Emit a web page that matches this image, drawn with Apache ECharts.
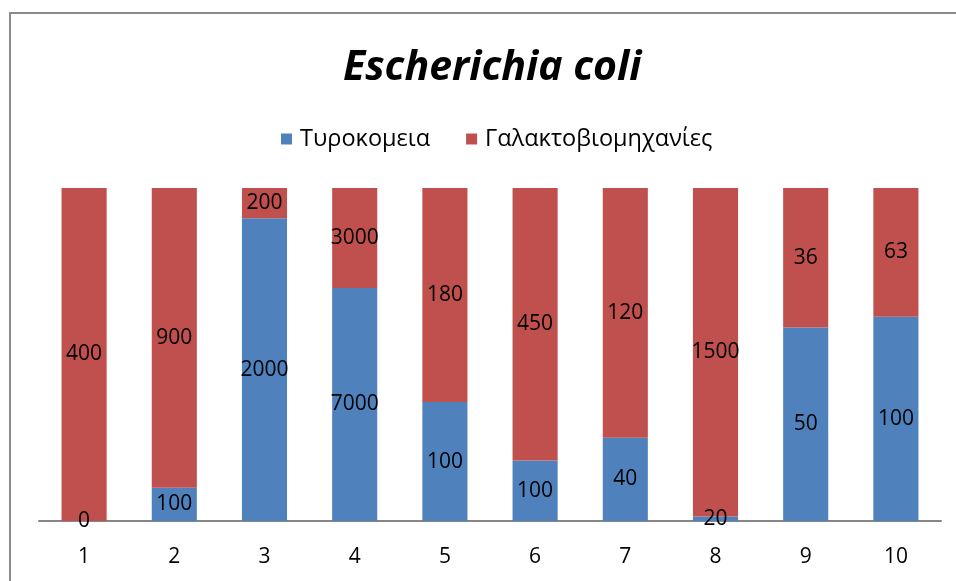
<!DOCTYPE html>
<html>
<head>
<meta charset="utf-8">
<script src="https://cdn.jsdelivr.net/npm/echarts@6/dist/echarts.min.js"></script>
<style>
  html, body { margin: 0; padding: 0; background: #fff; }
  #chart { width: 956px; height: 581px; }
</style>
</head>
<body>
<div id="chart"></div>
<script>
// Samples 1–10, E. coli counts per source
const categories = ['1', '2', '3', '4', '5', '6', '7', '8', '9', '10'];
const cheeseDairies = [0, 100, 2000, 7000, 100, 100, 40, 20, 50, 100];      // Τυροκομεια
const milkIndustries = [400, 900, 200, 3000, 180, 450, 120, 1500, 36, 63];  // Γαλακτοβιομηχανίες
const seriesNames = ['Τυροκομεια', 'Γαλακτοβιομηχανίες'];

// 100% stacked: each column is normalised to its total
const totals = categories.map((_, i) => cheeseDairies[i] + milkIndustries[i]);
const share = arr => arr.map((v, i) => v / totals[i] * 100);

const font = '"Open Sans", "Noto Sans", sans-serif';
const labelStyle = raw => ({
  show: true,
  position: 'inside',
  color: '#000',
  fontFamily: font,
  fontSize: 21,
  formatter: p => String(raw[p.dataIndex])
});

const chart = echarts.init(document.getElementById('chart'));
chart.setOption({
  animation: false,
  backgroundColor: '#fff',
  title: {
    text: 'Escherichia coli',
    left: 338,
    top: 43,
    textStyle: { fontFamily: font, fontSize: 41, fontWeight: 'bold', fontStyle: 'italic', color: '#000' }
  },
  legend: {
    top: 122,
    left: 276,
    itemWidth: 11,
    itemHeight: 11,
    itemGap: 36,
    icon: 'rect',
    textStyle: { fontFamily: font, fontSize: 23.5, color: '#000', padding: [0, 0, 0, 3] },
    data: seriesNames
  },
  grid: { left: 39, right: 15, top: 188, bottom: 60 },
  xAxis: {
    type: 'category',
    data: categories,
    axisLine: { lineStyle: { color: '#868686', width: 2 } },
    axisTick: { show: false },
    axisLabel: { color: '#000', fontFamily: font, fontSize: 21, margin: 26 }
  },
  yAxis: {
    type: 'value',
    min: 0,
    max: 100,
    show: false,
    splitLine: { show: false }
  },
  graphic: [{
    type: 'rect',
    shape: { x: 10, y: 13, width: 960, height: 600 },
    style: { fill: 'none', stroke: '#8a8a8a', lineWidth: 2 },
    silent: true
  }],
  series: [
    {
      name: seriesNames[0],
      type: 'bar',
      stack: 'total',
      barWidth: '50%',
      itemStyle: { color: '#4f81bd' },
      label: labelStyle(cheeseDairies),
      data: share(cheeseDairies),
      z: 2
    },
    {
      name: seriesNames[1],
      type: 'bar',
      stack: 'total',
      barWidth: '50%',
      itemStyle: { color: '#c0504d' },
      label: labelStyle(milkIndustries),
      data: share(milkIndustries),
      z: 2
    }
  ]
});
</script>
</body>
</html>
